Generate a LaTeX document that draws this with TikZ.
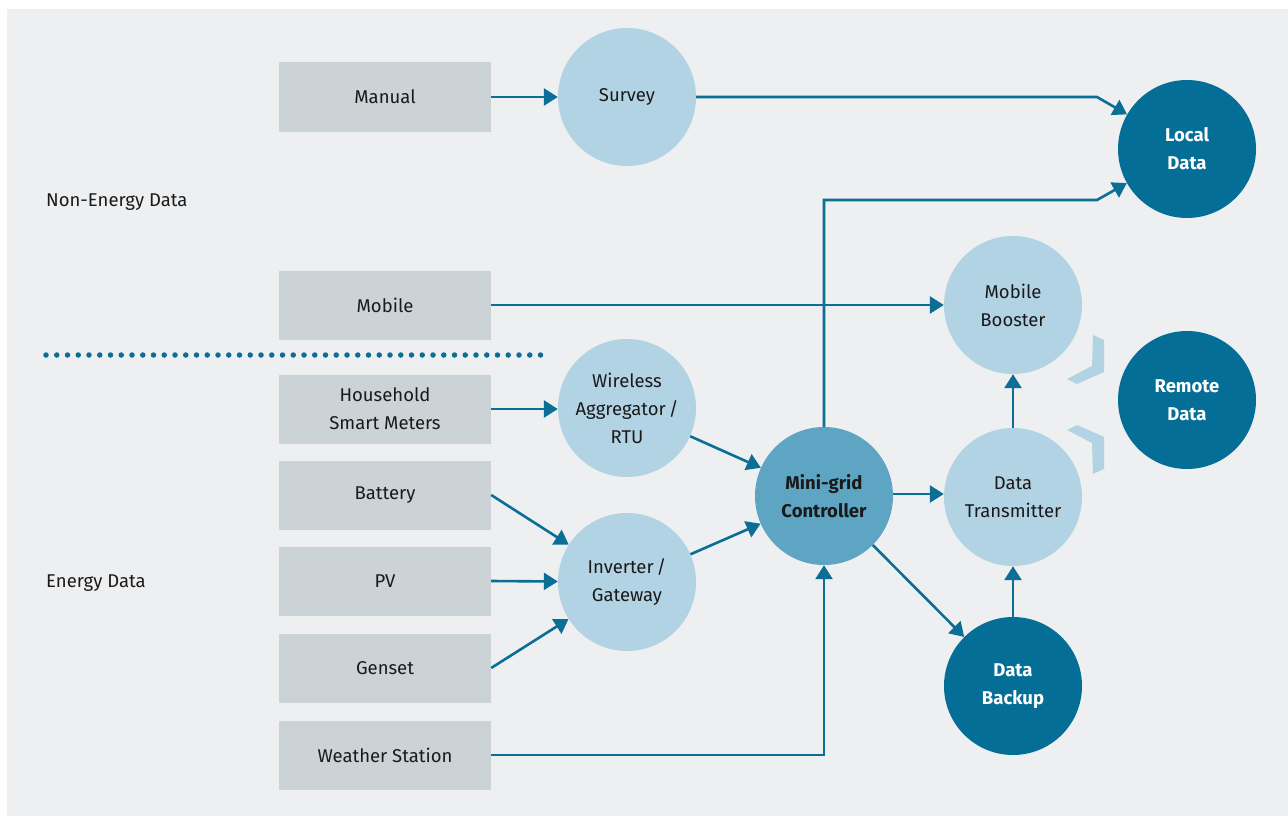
\documentclass[tikz,border=0pt]{standalone}
\usepackage{fontspec}
\setmainfont{Fira Sans}
\usetikzlibrary{arrows.meta}
\definecolor{bgc}{HTML}{EEEFF1}
\definecolor{boxc}{HTML}{CBD3D7}
\definecolor{lightc}{HTML}{B2D3E3}
\definecolor{midc}{HTML}{5EA5C4}
\definecolor{darkc}{HTML}{056E96}
\definecolor{arrc}{HTML}{0A6E96}
\definecolor{txtc}{HTML}{1A1A1A}
\tikzset{
  srcbox/.style={fill=boxc, minimum width=212pt, minimum height=69pt, inner sep=0pt, align=center, text=txtc, font=\fontsize{18.5}{28}\selectfont},
  lightcirc/.style={circle, fill=lightc, minimum size=138pt, inner sep=0pt, align=center, text=txtc, font=\fontsize{18.5}{28}\selectfont},
  midcirc/.style={circle, fill=midc, minimum size=138pt, inner sep=0pt, align=center, text=txtc, font=\bfseries\fontsize{18.5}{28}\selectfont},
  darkcirc/.style={circle, fill=darkc, minimum size=138pt, inner sep=0pt, align=center, text=white, font=\bfseries\fontsize{18.5}{28}\selectfont},
  arr/.style={draw=arrc, line width=2.6pt, -{Triangle[length=14pt,width=17pt]}},
  sidelabel/.style={anchor=west, inner sep=0pt, text=txtc, font=\fontsize{18.5}{28}\selectfont},
  signal/.style={fill=lightc, draw=none}
}
\begin{document}
\begin{tikzpicture}[x=1pt,y=-1pt]
\useasboundingbox (0,0) rectangle (1288,816);
\fill[bgc] (7,9) rectangle (1288,816);

% side labels
\node[sidelabel] (nonenergy) at (46,202) {Non-Energy Data};
\node[sidelabel] (energy) at (46,583) {Energy Data};
\draw[arrc, line width=5.5pt, line cap=round, dash pattern=on 0pt off 10.75pt] (46,355) -- (544,355);

% source boxes
\node[srcbox] (manual) at (385,97) {Manual};
\node[srcbox] (mobile) at (385,305) {Mobile};
\node[srcbox] (household) at (385,409) {Household\\Smart Meters};
\node[srcbox] (battery) at (385,495) {Battery};
\node[srcbox] (pv) at (385,581) {PV};
\node[srcbox] (genset) at (385,668) {Genset};
\node[srcbox] (weather) at (385,755) {Weather Station};

% circles
\node[lightcirc] (survey) at (627,97) {Survey};
\node[lightcirc] (wireless) at (627,408) {Wireless\\Aggregator\,/\\RTU};
\node[lightcirc] (inverter) at (627,582) {Inverter\,/\\Gateway};
\node[midcirc] (mini) at (824,496) {Mini-grid\\Controller};
\node[lightcirc] (booster) at (1013,305) {Mobile\\Booster};
\node[lightcirc] (transmitter) at (1013,497) {Data\\Transmitter};
\node[darkcirc] (backup) at (1013,686) {Data\\Backup};
\node[darkcirc] (local) at (1187,149) {Local\\Data};
\node[darkcirc] (remote) at (1187,400) {Remote\\Data};

% signal chevrons
\fill[signal] (1093,335) -- (1104,340) -- (1104,372) -- (1077,384) -- (1067,379) -- (1092,366) -- cycle;
\fill[signal] (1093,474) -- (1104,469) -- (1104,437) -- (1077,425) -- (1067,430) -- (1092,443) -- cycle;

% helper coordinates
\coordinate (k1) at (1097,97);
\coordinate (k2) at (824,200);
\coordinate (k3) at (1097,200);
\coordinate (k4) at (893,494);

% connectors
\draw[arr] (manual.east) -- (survey.west);
\draw[arr] (survey.east) -- (k1) -- (local);
\draw[arr] (mini.north) -- (k2) -- (k3) -- (local);
\draw[arr] (mobile.east) -- (booster.west);
\draw[arr] (household.east) -- (household.east -| wireless.west);
\draw[arr] (wireless) -- (mini);
\draw[arr] (battery.east) -- (inverter);
\draw[arr] (pv.east) -- (inverter);
\draw[arr] (genset.east) -- (inverter);
\draw[arr] (inverter) -- (mini);
\draw[arr] (weather.east) -| (mini.south);
\draw[arr] (k4) -- (k4 -| transmitter.west);
\draw[arr] (mini) -- (backup);
\draw[arr] (backup.north) -- (transmitter.south);
\draw[arr] (transmitter.north) -- (booster.south);
\end{tikzpicture}
\end{document}
